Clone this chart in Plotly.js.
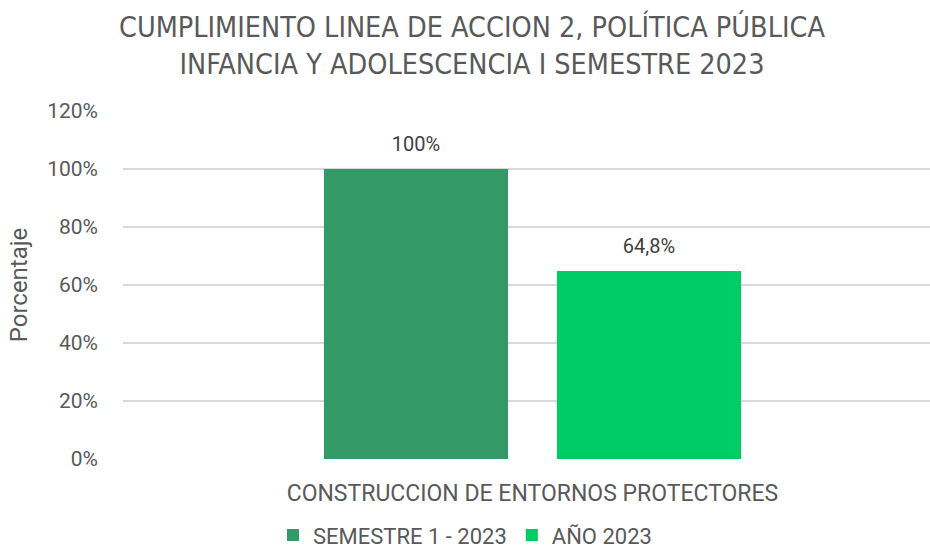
<!DOCTYPE html>
<html>
<head>
<meta charset="utf-8">
<script src="https://cdn.plot.ly/plotly-3.0.1.min.js"></script>
<style>html,body{margin:0;padding:0;background:#fff;}#chart{width:930px;height:550px;}</style>
</head>
<body>
<div id="chart"></div>
<script>
const categories = ["CONSTRUCCION DE ENTORNOS PROTECTORES"];
const seriesNames = ["SEMESTRE 1 - 2023", "AÑO 2023"];
const semestre1 = [100];
const anio2023 = [64.8];
const yTicks = [0, 20, 40, 60, 80, 100, 120];
const yTickLabels = yTicks.map(v => v + "%");

const FONT = "Roboto, 'Liberation Sans', sans-serif";
const TEXT = "#595959";

function labels(vals) {
  return vals.map(v => "<span style='font-size:20px'>" + String(v).replace(".", ",") + "%</span><br>&nbsp;");
}

const traces = [
  {type: "bar", name: seriesNames[0], x: categories, y: semestre1, text: labels(semestre1),
   marker: {color: "#339966"}, texttemplate: "%{text}", textposition: "outside",
   textfont: {size: 10, color: "#404040", family: FONT}, cliponaxis: false},
  {type: "bar", name: seriesNames[1], x: categories, y: anio2023, text: labels(anio2023),
   marker: {color: "#00CC66"}, texttemplate: "%{text}", textposition: "outside",
   textfont: {size: 10, color: "#404040", family: FONT}, cliponaxis: false}
];

const layout = {
  width: 930, height: 550,
  margin: {l: 123, r: 0, t: 111, b: 91},
  paper_bgcolor: "#fff", plot_bgcolor: "#fff",
  separators: ",.",
  font: {family: FONT, color: TEXT, size: 20},
  title: {text: "CUMPLIMIENTO LINEA DE ACCION 2, POLÍTICA PÚBLICA<br>INFANCIA Y ADOLESCENCIA I SEMESTRE 2023",
          font: {family: "'Liberation Sans Narrow', 'DejaVu Sans Condensed', sans-serif", size: 28.5, color: TEXT},
          xref: "container", yref: "container",
          x: 0.5075, xanchor: "center", y: 0.933, yanchor: "middle"},
  barmode: "group", bargap: 0.4225, bargroupgap: 0.21,
  xaxis: {type: "category", range: [-0.5074, 0.4926], showgrid: false, showline: false,
          ticks: "", ticklabelstandoff: 18, tickfont: {size: 23, color: TEXT}, zeroline: false,
          automargin: false},
  yaxis: {range: [0, 120], tickvals: yTicks, ticktext: yTickLabels, showgrid: true,
          gridcolor: "#d9d9d9", gridwidth: 1.5, zeroline: false, showline: false,
          ticks: "", ticklabelstandoff: 24, tickfont: {size: 21, color: TEXT}, automargin: false,
          title: {text: "Porcentaje", font: {size: 24, color: TEXT}, standoff: 12}},
  showlegend: true,
  legend: {orientation: "h", xref: "container", yref: "container",
           x: 0.5, xanchor: "center", y: 0.027, yanchor: "middle",
           font: {size: 22, color: TEXT}, traceorder: "normal"}
};

Plotly.newPlot("chart", traces, layout, {displayModeBar: false, staticPlot: true});
</script>
</body>
</html>
